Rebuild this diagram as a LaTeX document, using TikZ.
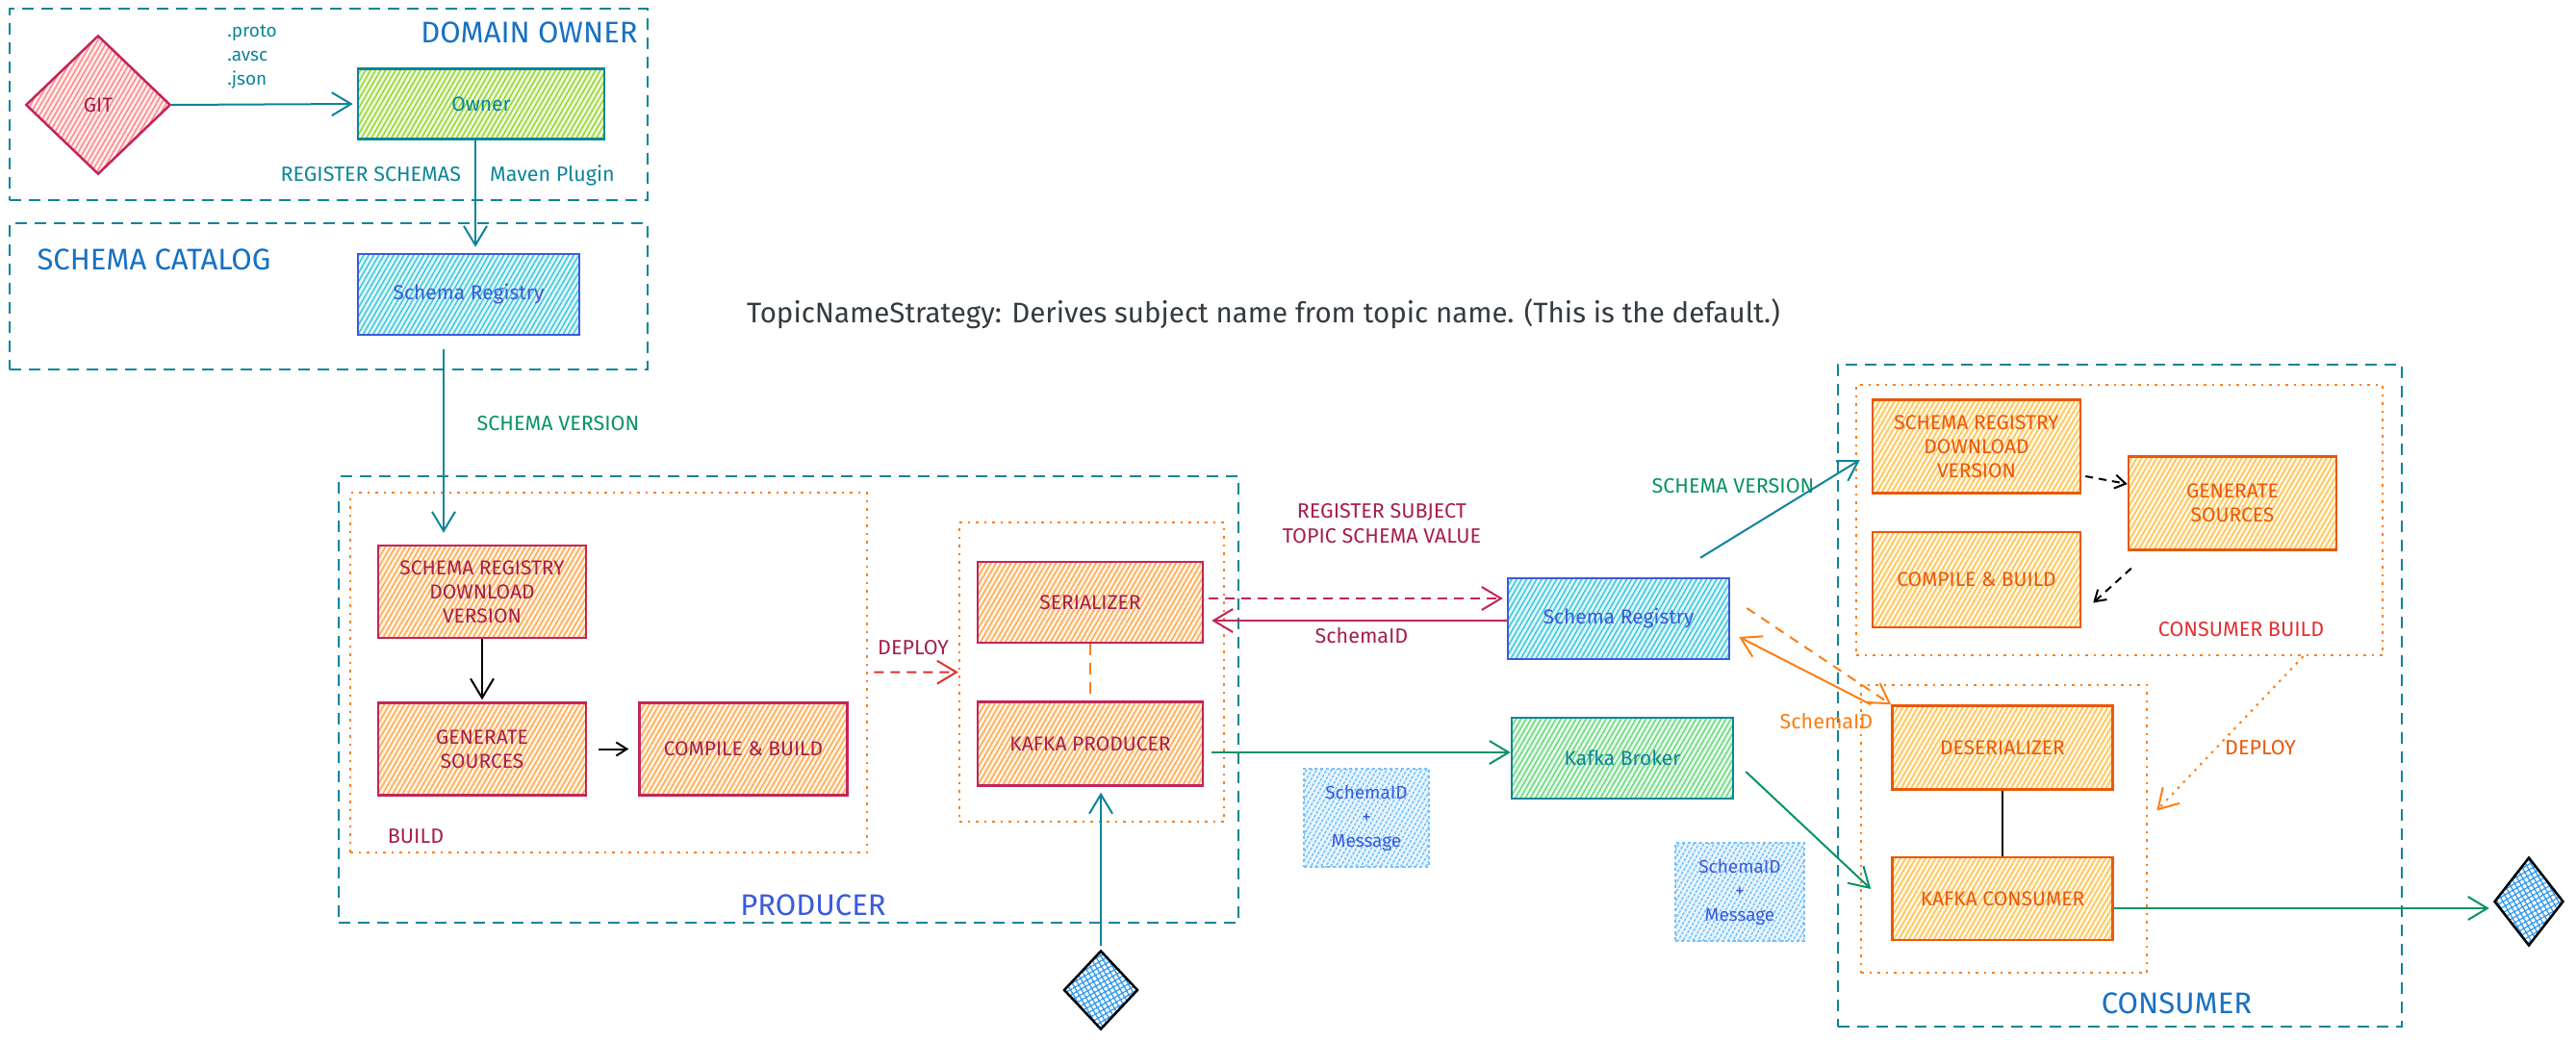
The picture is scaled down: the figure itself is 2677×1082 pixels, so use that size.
\documentclass[tikz,border=0pt]{standalone}
\usepackage{fontspec}
\setmainfont{Fira Sans}
\usetikzlibrary{arrows.meta,
                calc,
                positioning,
                patterns.meta,
                shapes.geometric}

\definecolor{teal9}{HTML}{0C8599}
\definecolor{blue8}{HTML}{1971C2}
\definecolor{indigo7}{HTML}{3B5BDB}
\definecolor{crim}{HTML}{C2255C}
\definecolor{crimtxt}{HTML}{A61E4D}
\definecolor{pinkfill}{HTML}{FF8787}
\definecolor{limefill}{HTML}{94D82D}
\definecolor{cyanfill}{HTML}{3BC9DB}
\definecolor{orfill}{HTML}{FFA94D}
\definecolor{yelfill}{HTML}{FFC24D}
\definecolor{conorange}{HTML}{E8590C}
\definecolor{green8}{HTML}{099268}
\definecolor{mintfill}{HTML}{69DB7C}
\definecolor{skyfill}{HTML}{74C0FC}
\definecolor{dotor}{HTML}{FD7E14}
\definecolor{red8}{HTML}{E03131}
\definecolor{gray9}{HTML}{343A40}
\definecolor{diafill}{HTML}{339AF0}

\newcommand{\szbox}{\fontsize{21}{25}\selectfont}
\newcommand{\szlbl}{\fontsize{21.5}{26}\selectfont}
\newcommand{\szsmall}{\fontsize{19}{25}\selectfont}
\newcommand{\szbig}{\fontsize{31}{34}\selectfont}
\newcommand{\sztitle}{\fontsize{29.5}{32}\selectfont}

\tikzset{
every picture/.style={
line width=2pt
}}

\begin{document}
\begin{tikzpicture}[
    x=1pt, y=-1pt,
    node distance = 60pt and 50pt,
      zone/.style = {draw=teal9, dash pattern=on 12pt off 8pt, inner sep=0pt},
   dotzone/.style = {draw=dotor, dash pattern=on 2.5pt off 6pt, line width=2.5pt, inner sep=0pt},
   hatched/.style = {pattern={Lines[angle=60,distance=4.5pt,line width=1.5pt]},
                     pattern color=#1, preaction={fill=#1!15}},
      base/.style = {draw, line width=2.5pt, align=center, font=\szbox, inner sep=2pt},
   prodbox/.style = {base, hatched=orfill, draw=crim, text=crimtxt,
                     minimum width=216pt, minimum height=96pt},
   consbox/.style = {base, hatched=yelfill, draw=conorange, text=conorange,
                     minimum width=216pt, minimum height=97pt},
    regbox/.style = {base, hatched=cyanfill, draw=indigo7, text=indigo7,
                     minimum width=230pt, minimum height=84pt},
    msgbox/.style = {base, hatched=skyfill, draw=skyfill, dashed, text=indigo7,
                     font=\szsmall, minimum width=130pt, minimum height=102pt},
   diabox/.style = {draw=black, line width=2.5pt, diamond, inner sep=0pt,
                     pattern={Hatch[angle=30,distance=5pt,line width=1.3pt]},
                     pattern color=diafill},
       lbl/.style = {inner sep=0pt, font=\szlbl},
       arr/.style = {-{Straight Barb[length=20pt,width=24pt]}},
      sarr/.style = {-{Straight Barb[length=11pt,width=14pt]}}
                    ]
\fill[white] (0,0) rectangle (2677,1082);
\useasboundingbox (0,0) rectangle (2677,1082);
% containers
\node[zone, minimum width=663pt, minimum height=199pt] (domain)   at (341.5,108.5) {};
\node[zone, minimum width=663pt, minimum height=152pt] (catalog)  at (341.5,308) {};
\node[zone, minimum width=935pt, minimum height=464pt] (producer) at (819.5,727) {};
\node[dotzone, minimum width=537pt, minimum height=374pt] (pbuild)  at (632.5,699) {};
\node[dotzone, minimum width=275pt, minimum height=311pt] (pdeploy) at (1134.5,698.5) {};
\node[zone, minimum width=586pt, minimum height=688pt] (consumer) at (2203,723) {};
\node[dotzone, minimum width=547pt, minimum height=281pt] (cbuild)  at (2202.5,540.5) {};
\node[dotzone, minimum width=297pt, minimum height=299pt] (cdeploy) at (2082.5,861.5) {};
% domain owner and catalog
\node[diabox, hatched=pinkfill, draw=crim, text=crimtxt, font=\szbox,
      minimum width=150pt, minimum height=144pt] (git) at (102,109) {GIT};
\node[base, hatched=limefill, draw=teal9, text=teal9,
      minimum width=256pt, minimum height=73pt] (owner) at (500,108) {Owner};
\node[regbox] (srtop) at (487,306) {Schema Registry};
% producer
\node[prodbox] (pdl) at (501,615) {SCHEMA REGISTRY\\DOWNLOAD\\VERSION};
\node[prodbox, below=65pt of pdl] (pgen) {GENERATE\\SOURCES};
\node[prodbox, right=53pt of pgen] (pcomp) {COMPILE \& BUILD};
\node[prodbox, minimum width=234pt, minimum height=84pt] (ser) at (1133,626) {SERIALIZER};
\node[prodbox, minimum width=234pt, minimum height=87pt, below=59pt of ser] (kprod) {KAFKA PRODUCER};
\node[diabox, minimum width=77pt, minimum height=82pt] (dprod) at (1144,1029) {};
% middle
\node[regbox] (srmid) at (1682,643) {Schema Registry};
\node[base, hatched=mintfill, draw=teal9, text=teal9,
      minimum width=230pt, minimum height=84pt] (kbroker) at (1686,788) {Kafka Broker};
\node[msgbox] (msg1) at (1420,850) {SchemaID\\+\\Message};
\node[msgbox, minimum width=134pt] (msg2) at (1808,927) {SchemaID\\+\\Message};
% consumer
\node[consbox] (csrdl) at (2054,464) {SCHEMA REGISTRY\\DOWNLOAD\\VERSION};
\node[consbox] (cgen) at (2320,523) {GENERATE\\SOURCES};
\node[consbox, minimum height=99pt, below=38pt of csrdl] (ccomp) {COMPILE \& BUILD};
\node[consbox, minimum width=229pt, minimum height=87pt] (deser) at (2081,777) {DESERIALIZER};
\node[consbox, minimum width=229pt, minimum height=86pt, below=68pt of deser] (kcons) {KAFKA CONSUMER};
\node[diabox, minimum width=72pt, minimum height=92pt] (dcons) at (2628,937) {};
% labels
\node[lbl, font=\szbig, text=blue8] (domainlbl) at (550,34) {DOMAIN OWNER};
\node[lbl, font=\szbig, text=blue8] (cataloglbl) at (160,270) {SCHEMA CATALOG};
\node[lbl, font=\szsmall, text=teal9, align=left] (extlbl) at (262,59) {.proto\\.avsc\\.json};
\node[lbl, text=teal9, anchor=east] (reglbl) at (480,181) {REGISTER SCHEMAS};
\node[lbl, text=teal9] (mavenlbl) at (574,182) {Maven Plugin};
\node[lbl, text=green8] (svlbl) at (580,440) {SCHEMA VERSION};
\node[lbl, font=\sztitle, text=gray9] (title) at (1313,326)
     {TopicNameStrategy: Derives subject name from topic name. (This is the default.)};
\node[lbl, font=\szbig, text=indigo7] (prodlbl) at (845,941) {PRODUCER};
\node[lbl, text=crimtxt] (buildlbl) at (432,869) {BUILD};
\node[lbl, text=crimtxt] (pdeploylbl) at (949,673) {DEPLOY};
\node[lbl, text=crimtxt, align=center] (subjlbl) at (1436,544) {REGISTER SUBJECT\\TOPIC SCHEMA VALUE};
\node[lbl, text=crimtxt] (idlbl) at (1415,661) {SchemaID};
\node[lbl, text=green8] (sv2lbl) at (1801,505) {SCHEMA VERSION};
\node[lbl, text=dotor] (id2lbl) at (1898,750) {SchemaID};
\node[lbl, text=red8] (cbuildlbl) at (2329,654) {CONSUMER BUILD};
\node[lbl, text=conorange] (cdeploylbl) at (2349,777) {DEPLOY};
\node[lbl, font=\szbig, text=blue8] (conslbl) at (2262,1043) {CONSUMER};
% connectors
\draw[arr, teal9, shorten >=4pt] (git.east) -- (owner.west);
\draw[arr, teal9, shorten >=6pt] ([xshift=-6pt]owner.south) -- ([xshift=-6pt]owner.south |- srtop.north);
\draw[arr, teal9, shorten <=14pt, shorten >=12pt]
    ([xshift=-26pt]srtop.south) -- ([xshift=-26pt]srtop.south |- pdl.north);
\draw[arr, black, shorten >=2pt] (pdl) -- (pgen);
\draw[sarr, black, shorten <=12pt, shorten >=10pt] (pgen.east) -- (pgen.east -| pcomp.west);
\draw[arr, red8, dash pattern=on 10pt off 7pt, shorten <=6pt] (pbuild) -- (pdeploy);
\draw[dotor, dash pattern=on 12pt off 8pt] (ser) -- (kprod);
\draw[arr, teal9, shorten <=4pt, shorten >=6pt] (dprod.north) -- (dprod.north |- kprod.south);
\draw[arr, crim, dash pattern=on 10pt off 7pt, shorten <=5pt, shorten >=4pt]
    ([yshift=4pt]ser.east) -- ([yshift=4pt]ser.east -| srmid.west);
\draw[arr, crim, shorten >=8pt]
    ([yshift=-2pt]srmid.west) -- ([yshift=-2pt]srmid.west -| ser.east);
\draw[arr, green8, shorten <=8pt]
    ([yshift=-9pt]kprod.east) -- ([yshift=-9pt]kprod.east -| kbroker.west);
\draw[arr, teal9] ([xshift=85pt,yshift=20pt]srmid.north) -- ([xshift=-12pt,yshift=-14pt]csrdl.west);
\draw[arr, dotor, dash pattern=on 10pt off 8pt] ([xshift=17pt,yshift=11pt]srmid.east) -- (deser.north west);
\draw[arr, dotor] ([xshift=-21pt]deser.north west) -- ([xshift=9pt,yshift=-19pt]srmid.east);
\draw[arr, green8] ([xshift=12pt,yshift=-14pt]kbroker.east) -- ([xshift=-21pt,yshift=10pt]kcons.west);
\draw[black, line width=1.5pt] (deser) -- (kcons);
\draw[sarr, black, dash pattern=on 8pt off 6pt]
    ([xshift=4pt,yshift=-31pt]csrdl.east) -- ([yshift=20pt]cgen.west);
\draw[sarr, black, dash pattern=on 8pt off 6pt]
    ([xshift=4pt,yshift=-18pt]cgen.south west) -- ([xshift=12pt,yshift=-24pt]ccomp.east);
\draw[arr, dotor, dash pattern=on 2.5pt off 6pt]
    ([xshift=191pt]cbuild.south) -- ([xshift=9pt,yshift=19pt]cdeploy.east);
\draw[arr, green8, shorten >=4pt]
    ([yshift=-10pt]kcons.east) -- ([yshift=-10pt]kcons.east -| dcons.west);
\end{tikzpicture}
\end{document}
